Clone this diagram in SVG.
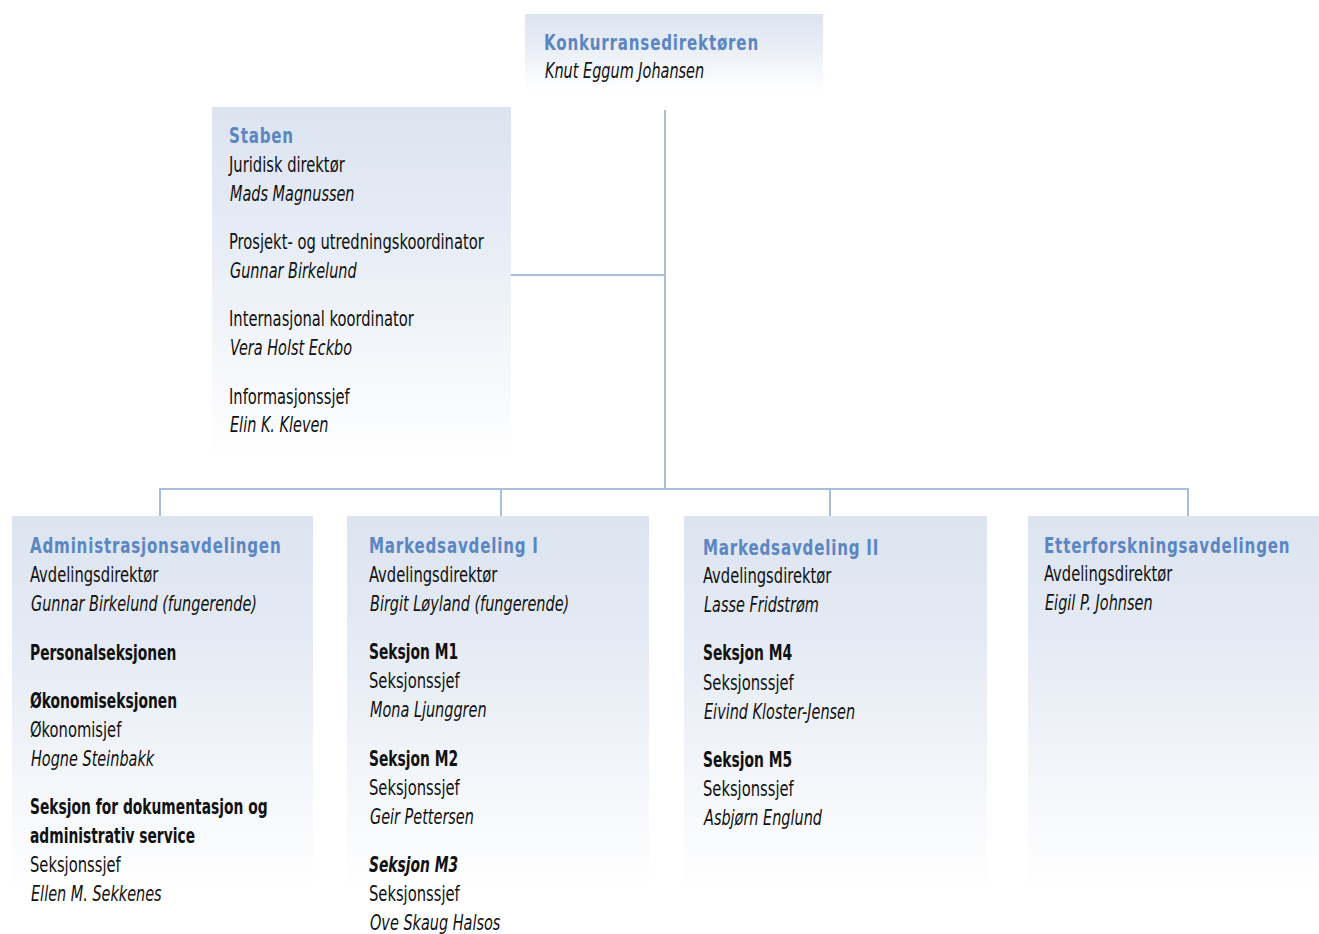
<svg xmlns="http://www.w3.org/2000/svg" width="1319" height="934" viewBox="0 0 1319 934">
<defs>
<linearGradient id="g" x1="0" y1="0" x2="0" y2="1">
<stop offset="0" stop-color="#dce4f0"/>
<stop offset="0.35" stop-color="#e6ecf5"/>
<stop offset="1" stop-color="#ffffff"/>
</linearGradient>
<linearGradient id="gb" x1="0" y1="0" x2="0" y2="1">
<stop offset="0" stop-color="#dce4f0"/>
<stop offset="0.3" stop-color="#e5ebf4"/>
<stop offset="0.9" stop-color="#ffffff"/>
<stop offset="1" stop-color="#ffffff"/>
</linearGradient>
</defs>
<style>
text{font-family:"Liberation Sans Narrow","Arial Narrow","DejaVu Sans Condensed","DejaVu Sans",sans-serif;font-size:22px;fill:#111}
.t{font-size:21px;font-weight:bold;fill:#5b86c2;letter-spacing:1px}
.i{font-style:italic}
.b{font-weight:bold}
.c{stroke:#a9bedc;stroke-width:2;fill:none}
</style>
<rect width="1319" height="934" fill="#fff"/>
<g id="connectors">
<line class="c" x1="665" y1="110" x2="665" y2="489"/>
<line class="c" x1="511" y1="275" x2="665" y2="275"/>
<line class="c" x1="159" y1="489" x2="1189" y2="489"/>
<line class="c" x1="160" y1="488" x2="160" y2="516"/>
<line class="c" x1="501" y1="488" x2="501" y2="516"/>
<line class="c" x1="830" y1="488" x2="830" y2="516"/>
<line class="c" x1="1188" y1="488" x2="1188" y2="516"/>
</g>
<g id="konkurransedirektoren">
<rect x="525" y="14" width="298" height="78" fill="url(#g)"/>
<text class="t" transform="translate(544 50) scale(.80 1)">Konkurransedirektøren</text>
<text class="i" transform="translate(545 78) scale(.73 1)">Knut Eggum Johansen</text>
</g>
<g id="staben">
<rect x="212" y="107" width="299" height="352" fill="url(#g)"/>
<text class="t" transform="translate(229 143) scale(.80 1)">Staben</text>
<text transform="translate(229 172) scale(.745 1)">Juridisk direktør</text>
<text class="i" transform="translate(230 201) scale(.73 1)">Mads Magnussen</text>
<text transform="translate(229 249) scale(.745 1)">Prosjekt- og utredningskoordinator</text>
<text class="i" transform="translate(230 278) scale(.73 1)">Gunnar Birkelund</text>
<text transform="translate(229 326) scale(.745 1)">Internasjonal koordinator</text>
<text class="i" transform="translate(230 355) scale(.73 1)">Vera Holst Eckbo</text>
<text transform="translate(229 404) scale(.745 1)">Informasjonssjef</text>
<text class="i" transform="translate(230 432) scale(.73 1)">Elin K. Kleven</text>
</g>
<g id="administrasjonsavdelingen">
<rect x="12" y="516" width="301" height="418" fill="url(#gb)"/>
<text class="t" transform="translate(30 553) scale(.80 1)">Administrasjonsavdelingen</text>
<text transform="translate(30 582) scale(.745 1)">Avdelingsdirektør</text>
<text class="i" transform="translate(31 611) scale(.73 1)">Gunnar Birkelund (fungerende)</text>
<text class="b" transform="translate(30 660) scale(.70 1)">Personalseksjonen</text>
<text class="b" transform="translate(30 708) scale(.70 1)">Økonomiseksjonen</text>
<text transform="translate(30 737) scale(.745 1)">Økonomisjef</text>
<text class="i" transform="translate(31 766) scale(.73 1)">Hogne Steinbakk</text>
<text class="b" transform="translate(30 814) scale(.70 1)">Seksjon for dokumentasjon og</text>
<text class="b" transform="translate(30 843) scale(.70 1)">administrativ service</text>
<text transform="translate(30 872) scale(.745 1)">Seksjonssjef</text>
<text class="i" transform="translate(31 901) scale(.73 1)">Ellen M. Sekkenes</text>
</g>
<g id="markedsavdeling1">
<rect x="347" y="516" width="302" height="418" fill="url(#gb)"/>
<text class="t" transform="translate(369 553) scale(.80 1)">Markedsavdeling I</text>
<text transform="translate(369 582) scale(.745 1)">Avdelingsdirektør</text>
<text class="i" transform="translate(370 611) scale(.73 1)">Birgit Løyland (fungerende)</text>
<text class="b" transform="translate(369 659) scale(.70 1)">Seksjon M1</text>
<text transform="translate(369 688) scale(.745 1)">Seksjonssjef</text>
<text class="i" transform="translate(370 717) scale(.73 1)">Mona Ljunggren</text>
<text class="b" transform="translate(369 766) scale(.70 1)">Seksjon M2</text>
<text transform="translate(369 795) scale(.745 1)">Seksjonssjef</text>
<text class="i" transform="translate(370 824) scale(.73 1)">Geir Pettersen</text>
<text class="b i" transform="translate(369 872) scale(.70 1)">Seksjon M3</text>
<text transform="translate(369 901) scale(.745 1)">Seksjonssjef</text>
<text class="i" transform="translate(370 930) scale(.73 1)">Ove Skaug Halsos</text>
</g>
<g id="markedsavdeling2">
<rect x="684" y="516" width="303" height="418" fill="url(#gb)"/>
<text class="t" transform="translate(703 555) scale(.80 1)">Markedsavdeling II</text>
<text transform="translate(703 583) scale(.745 1)">Avdelingsdirektør</text>
<text class="i" transform="translate(704 612) scale(.73 1)">Lasse Fridstrøm</text>
<text class="b" transform="translate(703 660) scale(.70 1)">Seksjon M4</text>
<text transform="translate(703 690) scale(.745 1)">Seksjonssjef</text>
<text class="i" transform="translate(704 719) scale(.73 1)">Eivind Kloster-Jensen</text>
<text class="b" transform="translate(703 767) scale(.70 1)">Seksjon M5</text>
<text transform="translate(703 796) scale(.745 1)">Seksjonssjef</text>
<text class="i" transform="translate(704 825) scale(.73 1)">Asbjørn Englund</text>
</g>
<g id="etterforskningsavdelingen">
<rect x="1028" y="516" width="291" height="418" fill="url(#gb)"/>
<text class="t" transform="translate(1044 553) scale(.80 1)">Etterforskningsavdelingen</text>
<text transform="translate(1044 581) scale(.745 1)">Avdelingsdirektør</text>
<text class="i" transform="translate(1045 610) scale(.73 1)">Eigil P. Johnsen</text>
</g>
</svg>
